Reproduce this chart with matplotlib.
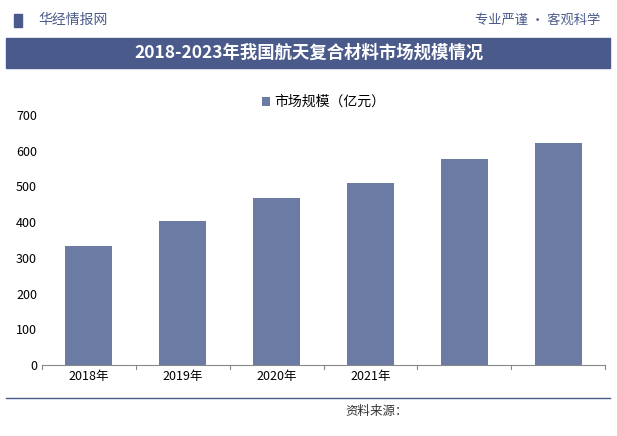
import matplotlib
matplotlib.use("Agg")
import matplotlib.pyplot as plt
from matplotlib.patches import Rectangle

plt.rcParams["font.family"] = ["Noto Sans CJK SC"]

years = ["2018年", "2019年", "2020年", "2021年", "2022年", "2023年"]
shown_labels = ["2018年", "2019年", "2020年", "2021年", "", ""]
values = [333, 403, 467, 509, 578, 622]
yticks = [0, 100, 200, 300, 400, 500, 600, 700]

W, H = 617, 436
fig = plt.figure(figsize=(W/100, H/100), dpi=100)
fig.patch.set_facecolor("white")

def fx(x): return x / W
def fy(y): return 1 - y / H

# header
fig.text(fx(38), fy(20), "华经情报网", fontsize=10, color="#4a5a8a", va="center")
fig.text(fx(600), fy(20), "专业严谨 • 客观科学", fontsize=9.5, color="#4a5a8a", va="center", ha="right")
fig.add_artist(Rectangle((fx(14), fy(27)), fx(8), 13/H, color="#4a5a8a", transform=fig.transFigure))
fig.add_artist(Rectangle((fx(6), fy(68)), fx(604), 30/H, color="#4a5a8a", transform=fig.transFigure))
fig.text(0.5, fy(53), "2018-2023年我国航天复合材料市场规模情况", fontsize=12.5, color="white",
         va="center", ha="center", fontweight="bold")

ax = fig.add_axes([fx(42), fy(365), fx(605-42), (365-115)/H])
bar_color = "#6b7ba3"
ax.bar(range(len(years)), values, width=0.5, color=bar_color, label="市场规模（亿元）")
ax.set_ylim(0, 700)
ax.set_xlim(-0.5, len(years) - 0.5)
ax.set_yticks(yticks)
ax.set_xticks(range(len(years)))
ax.set_xticklabels(shown_labels, fontsize=9)
ax.tick_params(axis="y", labelsize=9, length=0)
ax.tick_params(axis="x", length=0)
for s in ["top", "right", "left"]:
    ax.spines[s].set_visible(False)
ax.spines["bottom"].set_color("#888888")
for i in range(len(years) + 1):
    ax.plot([i - 0.5, i - 0.5], [0, -12], color="#888888", lw=0.8, clip_on=False)
ax.legend(loc="upper center", bbox_to_anchor=(0.5, 1.13), frameon=False, fontsize=10,
          handlelength=0.6, handleheight=0.6, handletextpad=0.3)

fig.add_artist(plt.Line2D([fx(6), fx(610)], [fy(398), fy(398)], color="#4a5a8a", lw=1, transform=fig.transFigure))
fig.text(fx(345), fy(411), "资料来源：", fontsize=9, color="#333333", va="center")

fig.savefig("out.png", dpi=100)
